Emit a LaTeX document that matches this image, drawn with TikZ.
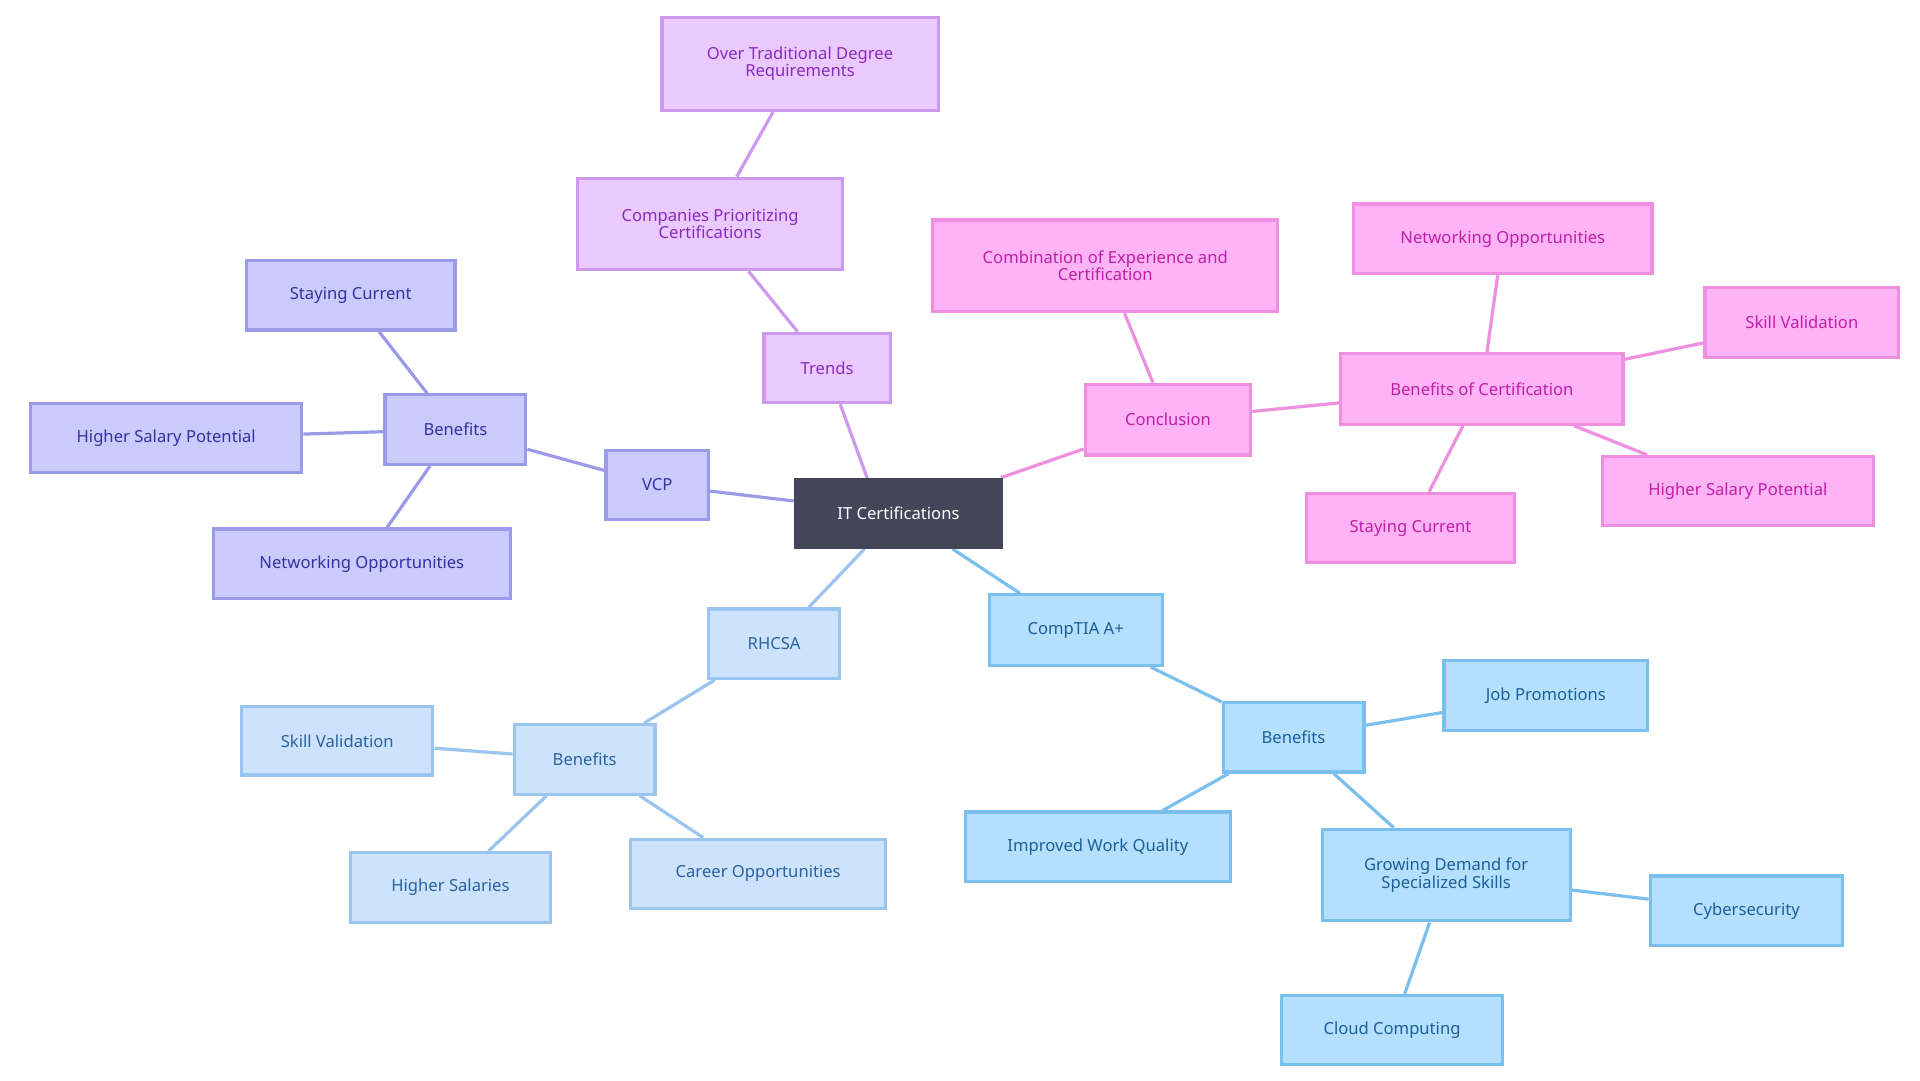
\documentclass[tikz,border=0pt]{standalone}
\usepackage{fontspec}
\setmainfont{Noto Sans}
\usetikzlibrary{backgrounds}
\definecolor{rootf}{HTML}{434559}
\definecolor{vf}{HTML}{CACAFD}\definecolor{vd}{HTML}{9A9AE8}\definecolor{vt}{HTML}{3333A0}
\definecolor{tf}{HTML}{E9C9FE}\definecolor{td}{HTML}{CC99EE}\definecolor{tt}{HTML}{8A2BBF}
\definecolor{pf}{HTML}{FDB3F5}\definecolor{pd}{HTML}{EF8FE0}\definecolor{pt}{HTML}{C020A8}
\definecolor{bf}{HTML}{B5E0FD}\definecolor{bd}{HTML}{7BBFEE}\definecolor{bt}{HTML}{1D5F9A}
\definecolor{lf}{HTML}{CDE3FD}\definecolor{ld}{HTML}{9BC4EE}\definecolor{lt}{HTML}{2A62A0}
\tikzset{
  box/.style 2 args={draw,line width=2.6pt,inner sep=0pt,minimum width=#1-2.6pt,minimum height=#2-2.6pt,align=center,font=\fontsize{13.5}{14}\selectfont},
  V/.style={fill=vf,draw=vd,text=vt}, T/.style={fill=tf,draw=td,text=tt},
  P/.style={fill=pf,draw=pd,text=pt}, B/.style={fill=bf,draw=bd,text=bt},
  L/.style={fill=lf,draw=ld,text=lt},
  e/.style={line width=2.6pt}
}
\begin{document}
\begin{tikzpicture}[x=1pt,y=-1pt]
\useasboundingbox (0,0) rectangle (1560,878);
\node[box={170pt}{58pt},fill=rootf,draw=rootf,text=white] (root) at (730,417) {IT Certifications};
% VCP
\node[box={86pt}{59pt},V] (vcp) at (534,394) {VCP};
\node[box={117pt}{59pt},V] (vb) at (370,349) {Benefits};
\node[box={172pt}{59pt},V] (vs) at (285,240) {Staying Current};
\node[box={223pt}{59pt},V] (vh) at (135,356) {Higher Salary Potential};
\node[box={244pt}{59pt},V] (vn) at (294,458) {Networking Opportunities};
% Trends
\node[box={105pt}{59pt},T] (tr) at (672,299) {Trends};
\node[box={218pt}{77pt},T] (tc) at (577,182) {Companies Prioritizing\\Certifications};
\node[box={227pt}{78pt},T] (to) at (650,52) {Over Traditional Degree\\Requirements};
% Conclusion
\node[box={137pt}{60pt},P] (co) at (949,341) {Conclusion};
\node[box={283pt}{77pt},P] (cc) at (898,216) {Combination of Experience and\\Certification};
\node[box={232pt}{60pt},P] (cb) at (1204,316) {Benefits of Certification};
\node[box={245pt}{59pt},P] (cn) at (1221,194) {Networking Opportunities};
\node[box={160pt}{59pt},P] (cs) at (1464,262) {Skill Validation};
\node[box={223pt}{59pt},P] (ch) at (1412,399) {Higher Salary Potential};
\node[box={172pt}{59pt},P] (cst) at (1146,429) {Staying Current};
% CompTIA
\node[box={143pt}{60pt},B] (ca) at (874,512) {CompTIA A+};
\node[box={117pt}{59pt},B] (bb) at (1051,599) {Benefits};
\node[box={168pt}{59pt},B] (bj) at (1256,565) {Job Promotions};
\node[box={218pt}{59pt},B] (bi) at (892,688) {Improved Work Quality};
\node[box={204pt}{77pt},B] (bg) at (1175,711) {Growing Demand for\\Specialized Skills};
\node[box={159pt}{59pt},B] (bc) at (1419,740) {Cybersecurity};
\node[box={182pt}{59pt},B] (bl) at (1131,837) {Cloud Computing};
% RHCSA
\node[box={109pt}{59pt},L] (rh) at (629,523) {RHCSA};
\node[box={117pt}{59pt},L] (lb) at (475,617) {Benefits};
\node[box={158pt}{58pt},L] (ls) at (274,602) {Skill Validation};
\node[box={165pt}{59pt},L] (lh) at (366,721) {Higher Salaries};
\node[box={210pt}{59pt},L] (lc) at (616,710) {Career Opportunities};
\begin{scope}[on background layer]
\fill[white] (0,0) rectangle (1560,878);
\draw[e,vd] (root)--(vcp) (vcp)--(vb) (vb)--(vs) (vb)--(vh) (vb)--(vn);
\coordinate (r1) at (715,417);
\draw[e,td] (r1)--(tr) (tr)--(tc) (tc)--(to);
\draw[e,pd] (root)--(co) (co)--(cc) (co)--(cb) (cb)--(cn) (cb)--(cs) (cb)--(ch) (cb)--(cst);
\draw[e,bd] (root)--(ca) (ca)--(bb) (bb)--(bj) (bb)--(bi) (bb)--(bg) (bg)--(bc) (bg)--(bl);
\draw[e,ld] (root)--(rh) (rh)--(lb) (lb)--(ls) (lb)--(lh) (lb)--(lc);
\end{scope}
\end{tikzpicture}
\end{document}
